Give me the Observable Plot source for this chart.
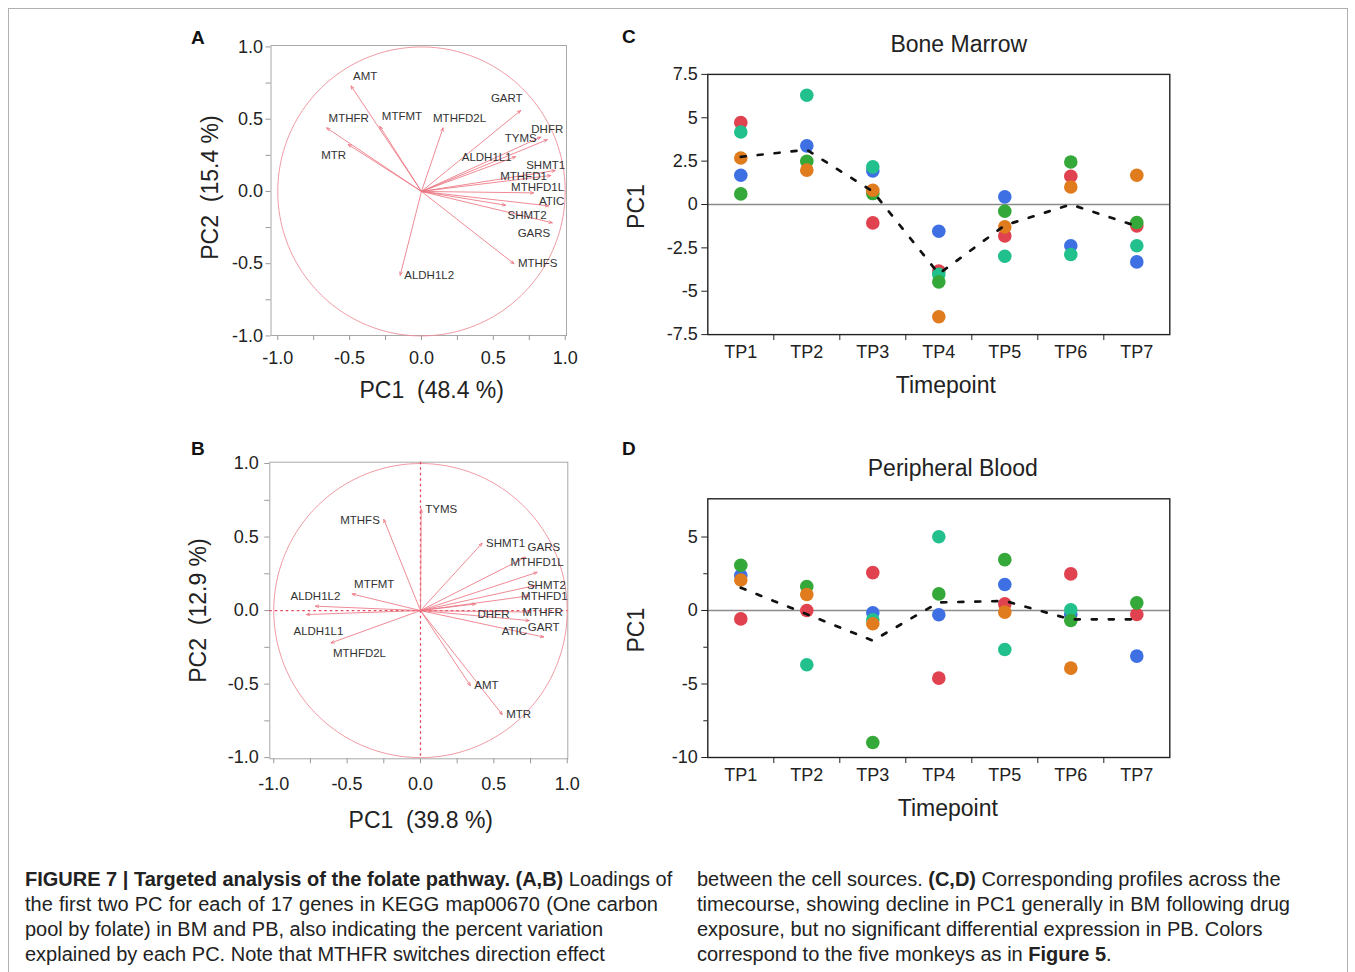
<!DOCTYPE html>
<html><head><meta charset="utf-8">
<script src="https://cdn.jsdelivr.net/npm/d3@7"></script>
<script src="https://cdn.jsdelivr.net/npm/@observablehq/plot@0.6"></script>
<style>
body{margin:0;background:#fff;font-family:"Liberation Sans",Arial,sans-serif;}
#page{position:relative;width:1355px;height:972px;overflow:hidden;background:#fff;}
.panel{position:absolute;}
.letter{position:absolute;font-weight:bold;font-size:19px;color:#111;line-height:19px;}
.cap{position:absolute;font-size:20px;line-height:25px;color:#222;white-space:nowrap;}
.just{text-align:justify;text-align-last:justify;}
#border{position:absolute;left:8px;top:8px;width:1338px;height:1000px;border:1px solid #b0b0b0;}
</style></head><body><div id="page">
<div id="border"></div>
<div class="panel" id="pA" style="left:170px;top:25px"></div>
<div class="panel" id="pB" style="left:170px;top:440px"></div>
<div class="panel" id="pC" style="left:600px;top:20px"></div>
<div class="panel" id="pD" style="left:600px;top:440px"></div>
<div class="letter" style="left:191px;top:28px">A</div>
<div class="letter" style="left:191px;top:439px">B</div>
<div class="letter" style="left:622px;top:27px">C</div>
<div class="letter" style="left:622px;top:439px">D</div>
<div class="cap just" style="left:25px;top:867px;width:633px"><b>FIGURE 7 | Targeted analysis of the folate pathway. (A,B)</b> Loadings of</div>
<div class="cap just" style="left:25px;top:892px;width:633px">the first two PC for each of 17 genes in KEGG map00670 (One carbon</div>
<div class="cap" style="left:25px;top:917px">pool by folate) in BM and PB, also indicating the percent variation</div>
<div class="cap" style="left:25px;top:942px">explained by each PC. Note that MTHFR switches direction effect</div>
<div class="cap just" style="left:697px;top:867px;width:581px">between the cell sources. <b>(C,D)</b> Corresponding profiles across the</div>
<div class="cap just" style="left:697px;top:892px;width:593px">timecourse, showing decline in PC1 generally in BM following drug</div>
<div class="cap" style="left:697px;top:917px">exposure, but no significant differential expression in PB. Colors</div>
<div class="cap" style="left:697px;top:942px">correspond to the five monkeys as in <b>Figure 5</b>.</div>
</div>
<script>
// ---------- Panel A: BM loadings ----------
const bmGenes = ["AMT","MTHFR","MTFMT","MTHFD2L","MTR","GART","DHFR","TYMS","ALDH1L1","SHMT1","MTHFD1","MTHFD1L","ATIC","SHMT2","GARS","MTHFS","ALDH1L2"];
const bmPC1 = [-0.49,-0.66,-0.29,0.15,-0.51,0.69,0.875,0.83,0.655,0.93,0.90,0.78,0.885,0.585,0.91,0.643,-0.148];
const bmPC2 = [0.73,0.44,0.45,0.44,0.325,0.56,0.358,0.376,0.24,0.145,0.11,-0.01,-0.10,-0.095,-0.217,-0.50,-0.58];
const bmLabelSide = ["ne","ne","ne","nc","sw","nw","n","w","w","cw","w","n2","n3","se","sw","e","e"];
const bmAxisX = "PC1\u00a0\u00a0(48.4 %)";
const bmAxisY = "PC2\u00a0\u00a0(15.4 %)";

// ---------- Panel B: PB loadings ----------
const pbGenes = ["TYMS","MTHFS","SHMT1","GARS","MTHFD1L","SHMT2","MTHFD1","DHFR","MTHFR","ATIC","GART","AMT","MTR","ALDH1L2","ALDH1L1","MTFMT","MTHFD2L"];
const pbPC1 = [0.005,-0.25,0.42,0.716,0.795,0.78,0.74,0.375,0.75,0.74,0.84,0.34,0.557,-0.716,-0.777,-0.466,-0.61];
const pbPC2 = [0.69,0.62,0.458,0.363,0.26,0.17,0.10,0.045,-0.01,-0.068,-0.18,-0.51,-0.707,0.03,-0.027,0.113,-0.22];
const pbLabelSide = ["e","w","e","ne","n","c","c","se","c","sw","n","e","e","n","sc","ne","se"];
const pbAxisX = "PC1\u00a0\u00a0(39.8 %)";
const pbAxisY = "PC2\u00a0\u00a0(12.9 %)";

const loadingTicks = [-1,-0.75,-0.5,-0.25,0,0.25,0.5,0.75,1];

// ---------- Panels C, D: PC1 across timepoints ----------
const timepoints = ["TP1","TP2","TP3","TP4","TP5","TP6","TP7"];
const monkeys = ["Monkey 1","Monkey 2","Monkey 3","Monkey 4","Monkey 5"];
const monkeyColors = ["#e0424f","#3e6fe3","#21c08c","#35a83a","#e07b1e"];

const bmMonkey1 = [4.72, null, -1.06, -3.84, -1.81, 1.63, -1.23];
const bmMonkey2 = [1.69, 3.38, 1.94, -1.54, 0.44, -2.38, -3.31];
const bmMonkey3 = [4.18, 6.30, 2.17, -4.03, -2.98, -2.88, -2.38];
const bmMonkey4 = [0.61, 2.49, 0.63, -4.46, -0.39, 2.45, -1.04];
const bmMonkey5 = [2.68, 1.98, 0.82, -6.47, -1.29, 1.01, 1.69];
const bmTrend = [2.75, 3.15, 0.75, -4.0, -1.2, 0.0, -1.25];

const pbMonkey1 = [-0.57, 0.0, 2.58, -4.6, 0.45, 2.49, -0.27];
const pbMonkey2 = [2.38, null, -0.16, -0.29, 1.77, -0.27, -3.1];
const pbMonkey3 = [null, -3.69, -0.63, 5.02, -2.65, 0.05, null];
const pbMonkey4 = [3.08, 1.63, -8.98, 1.13, 3.46, -0.68, 0.52];
const pbMonkey5 = [2.08, 1.09, -0.9, null, -0.11, -3.92, null];
const pbTrend = [1.55, -0.25, -2.05, 0.55, 0.65, -0.6, -0.6];

const bmTicks = [-7.5,-5,-2.5,0,2.5,5,7.5];
const pbMajorTicks = [-10,-5,0,5];
const pbMinorTicks = [-7.5,-2.5,2.5];

// ---------- helpers ----------
const FONT = "Liberation Sans, Arial, sans-serif";
const sides = {
  ne:{textAnchor:"start", dx:2, dy:-10},
  nc:{textAnchor:"start", dx:-10, dy:-10},
  n:{textAnchor:"middle", dx:0, dy:-10},
  n2:{textAnchor:"middle", dx:4, dy:-6},
  n3:{textAnchor:"middle", dx:3, dy:-5},
  nw:{textAnchor:"end", dx:2, dy:-12},
  cw:{textAnchor:"end", dx:10, dy:-5},
  e:{textAnchor:"start", dx:4, dy:0},
  w:{textAnchor:"end", dx:-4, dy:1},
  se:{textAnchor:"start", dx:2, dy:10},
  s:{textAnchor:"middle", dx:0, dy:12},
  sc:{textAnchor:"start", dx:-13, dy:17},
  sw:{textAnchor:"end", dx:-2, dy:11},
  c:{textAnchor:"start", dx:-8, dy:0}
};
const fmtLoading = d => Math.abs(d*2 - Math.round(d*2)) < 1e-9 ? d.toFixed(1) : "";

function loadingPlot(genes, pc1, pc2, side, axX, axY, cfg) {
  const rows = genes.map((g,i)=>({gene:g, pc1:pc1[i], pc2:pc2[i], side:side[i]}));
  const circle = d3.range(0, 361, 2).map(a => ({cx:Math.cos(a*Math.PI/180), cy:Math.sin(a*Math.PI/180)}));
  const marks = [
    Plot.frame({stroke:"#a8a8a8", strokeWidth:1}),
    Plot.line(circle, {x:"cx", y:"cy", stroke:"#ee8e98", strokeWidth:0.9})
  ];
  if (cfg.crosshair) {
    marks.push(Plot.ruleX([0], {stroke:"#e3475f", strokeWidth:1.3, strokeDasharray:"2.5,3"}));
    marks.push(Plot.ruleY([0], {stroke:"#e3475f", strokeWidth:1.3, strokeDasharray:"2.5,3"}));
  }
  marks.push(Plot.arrow(rows, {x1:0, y1:0, x2:"pc1", y2:"pc2", stroke:"#ec7582", strokeWidth:0.85, headLength:6, headAngle:45}));
  for (const [code, o] of Object.entries(sides)) {
    marks.push(Plot.text(rows, {filter:d=>d.side===code, x:"pc1", y:"pc2", text:"gene",
      textAnchor:o.textAnchor, dx:o.dx, dy:o.dy, lineAnchor:"middle", fontSize:11.5, fill:"#333"}));
  }
  marks.push(Plot.axisX({ticks:loadingTicks, tickFormat:fmtLoading, tickSize:5, tickPadding:cfg.xPad, fontSize:18, stroke:"#999", fill:"#222", label:null}));
  marks.push(Plot.axisY({ticks:loadingTicks, tickFormat:fmtLoading, tickSize:5, tickPadding:cfg.yPad, fontSize:18, stroke:"#999", fill:"#222", label:null}));
  marks.push(Plot.text([axX], {text:d=>d, frameAnchor:"bottom", dx:cfg.xlab[0], dy:cfg.xlab[1], fontSize:23, textAnchor:"middle", lineAnchor:"middle", fill:"#222"}));
  marks.push(Plot.text([axY], {text:d=>d, frameAnchor:"left", dx:cfg.ylab[0], dy:cfg.ylab[1], fontSize:23, rotate:-90, textAnchor:"middle", lineAnchor:"middle", fill:"#222"}));
  return Plot.plot({
    width:cfg.width, height:cfg.height,
    marginLeft:cfg.m[0], marginRight:cfg.m[1], marginTop:cfg.m[2], marginBottom:cfg.m[3],
    x:{domain:cfg.xd}, y:{domain:cfg.yd},
    style:{fontFamily:FONT, background:"transparent", overflow:"visible"},
    marks
  });
}

function timePlot(series, trend, title, cfg) {
  const rows = [];
  series.forEach((vals, m) => vals.forEach((v, i) => { if (v != null) rows.push({tp:i+1, monkey:monkeys[m], value:v}); }));
  const trendRows = trend.map((v,i)=>({tp:i+1, value:v}));
  const marks = [
    Plot.ruleY([0], {stroke:"#8c8c8c", strokeWidth:1.6}),
    Plot.dot(rows, {x:"tp", y:"value", fill:"monkey", r:6.8}),
    Plot.line(trendRows, {x:"tp", y:"value", stroke:"#111", strokeWidth:2.7, strokeDasharray:"5,12"}),
    Plot.frame({stroke:"#222", strokeWidth:1.4}),
    Plot.axisX({ticks:d3.range(1,8), tickFormat:i=>timepoints[i-1], tickSize:0, tickPadding:11, fontSize:18, fill:"#222", label:null}),
    Plot.axisX({ticks:d3.range(1.5,7,1), tickFormat:()=>"", tickSize:6, stroke:"#222", label:null}),
    Plot.axisY({ticks:cfg.major, tickFormat:d=>String(d), tickSize:6, tickPadding:4, fontSize:18, stroke:"#222", fill:"#222", label:null})
  ];
  if (cfg.minor) marks.push(Plot.axisY({ticks:cfg.minor, tickFormat:()=>"", tickSize:4, stroke:"#222", label:null}));
  marks.push(Plot.text([title], {text:d=>d, frameAnchor:"top", dx:cfg.title[0], dy:cfg.title[1], fontSize:23, textAnchor:"middle", lineAnchor:"middle", fill:"#222"}));
  marks.push(Plot.text(["Timepoint"], {text:d=>d, frameAnchor:"bottom", dx:cfg.xlab[0], dy:cfg.xlab[1], fontSize:23, textAnchor:"middle", lineAnchor:"middle", fill:"#222"}));
  marks.push(Plot.text(["PC1"], {text:d=>d, frameAnchor:"left", dx:cfg.ylab[0], dy:cfg.ylab[1], fontSize:23, rotate:-90, textAnchor:"middle", lineAnchor:"middle", fill:"#222"}));
  return Plot.plot({
    width:cfg.width, height:cfg.height,
    marginLeft:cfg.m[0], marginRight:cfg.m[1], marginTop:cfg.m[2], marginBottom:cfg.m[3],
    x:{domain:[0.5,7.5]}, y:{domain:cfg.yd},
    color:{domain:monkeys, range:monkeyColors},
    style:{fontFamily:FONT, background:"transparent", overflow:"visible"},
    marks
  });
}

document.getElementById("pA").append(loadingPlot(bmGenes, bmPC1, bmPC2, bmLabelSide, bmAxisX, bmAxisY, {
  width:420, height:385, m:[100.5,24,20,75], xd:[-1.047,1.009], yd:[-0.997,1.01],
  xPad:10.5, yPad:3, xlab:[13,55], ylab:[-60.5,-3], crosshair:false
}));
document.getElementById("pB").append(loadingPlot(pbGenes, pbPC1, pbPC2, pbLabelSide, pbAxisX, pbAxisY, {
  width:420, height:400, m:[99.3,22.7,21.7,81.7], xd:[-1.027,1.004], yd:[-1.008,1.009],
  xPad:13, yPad:6, xlab:[2,62], ylab:[-71,0], crosshair:true
}));
document.getElementById("pC").append(timePlot([bmMonkey1,bmMonkey2,bmMonkey3,bmMonkey4,bmMonkey5], bmTrend, "Bone Marrow", {
  width:590, height:400, m:[107.3,20.7,53.9,85.9], yd:[-7.5,7.5], major:bmTicks, minor:null,
  title:[20,-30], xlab:[7,51], ylab:[-71,2]
}));
document.getElementById("pD").append(timePlot([pbMonkey1,pbMonkey2,pbMonkey3,pbMonkey4,pbMonkey5], pbTrend, "Peripheral Blood", {
  width:590, height:390, m:[107.3,20.7,58.3,73], yd:[-10,7.6], major:pbMajorTicks, minor:pbMinorTicks,
  title:[14,-30], xlab:[9,51], ylab:[-71,2]
}));
</script>
</body></html>
